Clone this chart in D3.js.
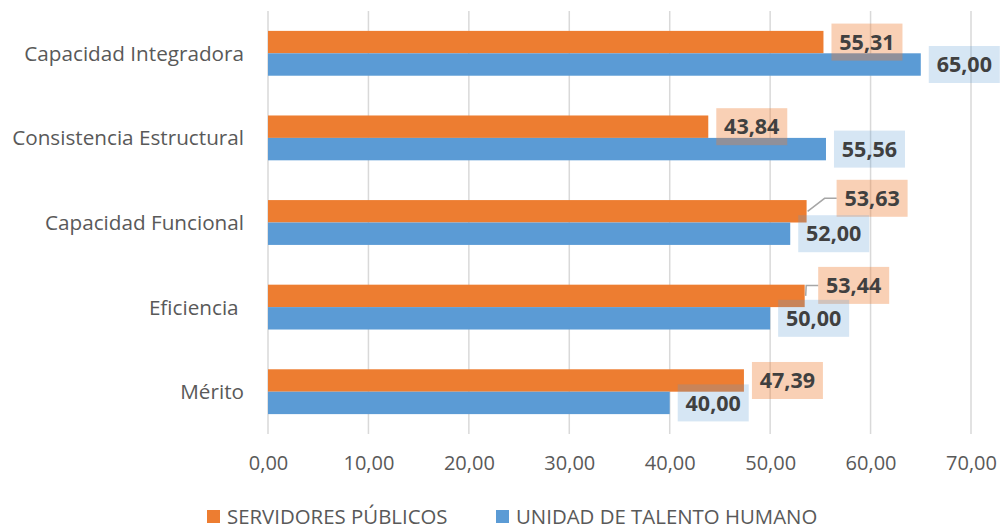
<!DOCTYPE html>
<html>
<head>
<meta charset="utf-8">
<script src="https://cdn.jsdelivr.net/npm/d3@7"></script>
<style>
  html, body { margin: 0; padding: 0; background: #fff; }
  svg { display: block; font-family: "Open Sans", "Noto Sans", sans-serif; }
</style>
</head>
<body>
<svg id="chart" width="1002" height="529"></svg>
<script>
// Dimensions of the institutional-capacity index, two respondent groups
const categories = ["Capacidad Integradora", "Consistencia Estructural", "Capacidad Funcional", "Eficiencia ", "Mérito"];
const seriesNames = ["SERVIDORES PÚBLICOS", "UNIDAD DE TALENTO HUMANO"];
const servidores = [55.31, 43.84, 53.63, 53.44, 47.39];
const talentoHumano = [65.00, 55.56, 52.00, 50.00, 40.00];
const xTickValues = [0, 10, 20, 30, 40, 50, 60, 70];

const colors = ["#ed7d31", "#5b9bd5"];
const boxOpacity = [0.36, 0.25];

// label boxes that were pulled away from their bar (series, category) -> shift
const labelShift = { "0-2": [22, -13], "0-3": [5.5, -10.5] };

const fmt = d3.formatLocale({ decimal: ",", thousands: ".", grouping: [3], currency: ["", ""] }).format(".2f");

const svg = d3.select("#chart");
const plot = { left: 268, right: 971, top: 11, bottom: 434 };

const x = d3.scaleLinear().domain([0, 70]).range([plot.left, plot.right]);
const y = d3.scaleBand().domain(categories).range([plot.top, plot.bottom]).paddingInner(0.47).paddingOuter(0.235);
const ySub = d3.scaleBand().domain([0, 1]).range([0, y.bandwidth()]);

// vertical gridlines
svg.append("g")
  .selectAll("line")
  .data(xTickValues)
  .join("line")
  .attr("x1", d => x(d)).attr("x2", d => x(d))
  .attr("y1", plot.top).attr("y2", plot.bottom)
  .attr("stroke", "#d9d9d9").attr("stroke-width", 1.5);

// x axis labels
const xAxis = d3.axisBottom(x).tickValues(xTickValues).tickFormat(fmt).tickSize(0).tickPadding(0);
const gx = svg.append("g").attr("transform", `translate(0,${plot.bottom + 22})`).call(xAxis);
gx.select(".domain").remove();
gx.selectAll("text")
  .attr("font-family", "Open Sans, sans-serif")
  .attr("font-size", 20).attr("fill", "#595959").attr("dy", "0.71em").attr("y", 0);

// category labels
const yAxis = d3.axisLeft(y).tickSize(0).tickPadding(0);
const gy = svg.append("g").attr("transform", `translate(${plot.left - 24},0)`).call(yAxis);
gy.select(".domain").remove();
gy.selectAll("text")
  .attr("font-family", "Open Sans, sans-serif")
  .attr("font-size", 20.7).attr("fill", "#595959")
  .attr("dy", "0.36em")
  .style("white-space", "pre");

const series = [servidores, talentoHumano];
const records = [];
series.forEach((vals, s) => vals.forEach((v, i) => records.push({ s, i, v, cat: categories[i] })));

// bars
svg.append("g")
  .selectAll("rect")
  .data(records)
  .join("rect")
  .attr("x", x(0))
  .attr("y", d => y(d.cat) + ySub(d.s))
  .attr("width", d => x(d.v) - x(0))
  .attr("height", ySub.bandwidth())
  .attr("fill", d => colors[d.s]);

// data labels with translucent boxes
const boxW = 71, boxH = 37, gap = 8;
const labels = svg.append("g").selectAll("g").data(records).join("g")
  .each(function (d) {
    const key = `${d.s}-${d.i}`;
    const shift = labelShift[key] || [0, 0];
    d.barEnd = x(d.v);
    d.barMid = y(d.cat) + ySub(d.s) + ySub.bandwidth() / 2;
    d.bx = d.barEnd + gap + shift[0];
    d.cy = d.barMid + shift[1];
    d.shifted = key in labelShift;
  });

labels.filter(d => d.shifted)
  .append("path")
  .attr("d", d => d3.line()([[d.barEnd + 1, d.barMid], [d.bx - 12, d.cy], [d.bx, d.cy]]))
  .attr("fill", "none").attr("stroke", "#a6a6a6").attr("stroke-width", 1.5);

labels.append("rect")
  .attr("x", d => d.bx).attr("y", d => d.cy - boxH / 2)
  .attr("width", boxW).attr("height", boxH)
  .attr("fill", d => colors[d.s]).attr("fill-opacity", d => boxOpacity[d.s]);

labels.append("text")
  .attr("x", d => d.bx + boxW / 2).attr("y", d => d.cy)
  .attr("dy", "0.36em")
  .attr("text-anchor", "middle")
  .attr("font-size", 21.5).attr("font-weight", 700).attr("fill", "#404040")
  .text(d => fmt(d.v));

// legend
const legendItems = [{ name: seriesNames[0], x: 207 }, { name: seriesNames[1], x: 496 }];
const lg = svg.append("g").selectAll("g").data(legendItems).join("g")
  .attr("transform", d => `translate(${d.x},509)`);
lg.append("rect").attr("y", 1).attr("width", 13).attr("height", 13).attr("fill", (d, i) => colors[i]);
lg.append("text").attr("x", 20).attr("y", 7.5).attr("dy", "0.35em")
  .attr("font-size", 20.4).attr("fill", "#595959").text(d => d.name);
</script>
</body>
</html>
